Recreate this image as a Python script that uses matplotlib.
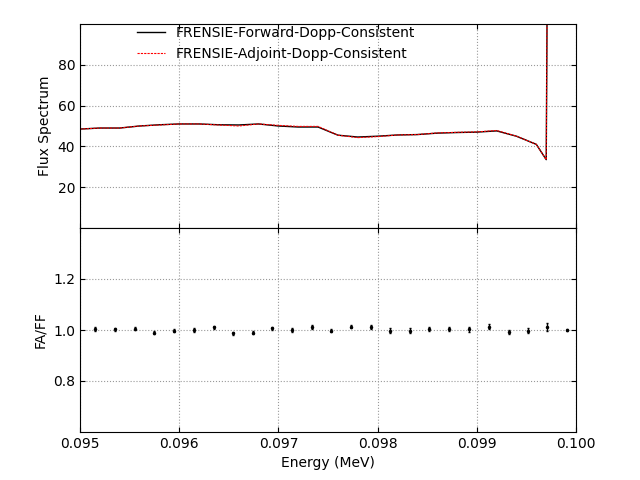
import numpy as np
import matplotlib
matplotlib.use('Agg')
import matplotlib.pyplot as plt

# flux spectrum
energy = [0.0950, 0.0952, 0.0954, 0.0956, 0.0958, 0.0960, 0.0962, 0.0964, 0.0966,
          0.0968, 0.0970, 0.0972, 0.0974, 0.0976, 0.0978, 0.0980, 0.0982, 0.0984,
          0.0986, 0.0988, 0.0990, 0.0992, 0.0994, 0.0996, 0.0997, 0.09971]
flux_fwd = [48.5, 49.0, 49.0, 50.0, 50.6, 51.0, 51.0, 50.6, 50.5, 51.0, 50.0, 49.5,
            49.5, 45.5, 44.6, 45.0, 45.6, 45.8, 46.5, 46.8, 47.0, 47.6, 45.0, 41.0,
            33.5, 120.0]
flux_adj = [48.5, 49.0, 49.0, 50.0, 50.5, 51.0, 51.0, 50.5, 50.0, 51.0, 50.3, 49.8,
            49.8, 45.5, 44.3, 44.8, 45.6, 45.8, 46.6, 46.9, 47.1, 47.8, 45.0, 41.0,
            33.5, 120.0]

# ratio FA/FF
ratio_x = [0.09515, 0.09535, 0.09555, 0.09575, 0.09595, 0.09615, 0.09635, 0.09654,
           0.09674, 0.09694, 0.09714, 0.09734, 0.09753, 0.09773, 0.09793, 0.09813,
           0.09833, 0.09852, 0.09872, 0.09892, 0.09912, 0.09932, 0.09952, 0.09971, 0.09991]
ratio = [1.005, 1.003, 1.005, 0.990, 0.997, 1.000, 1.010, 0.988, 0.990, 1.007, 1.000,
         1.012, 0.997, 1.012, 1.010, 0.998, 0.998, 1.005, 1.003, 1.002, 1.013, 0.992,
         0.997, 1.012, 1.000]
ratio_err = [0.007, 0.005, 0.006, 0.007, 0.006, 0.006, 0.006, 0.006, 0.007, 0.006, 0.006,
             0.007, 0.006, 0.006, 0.008, 0.008, 0.008, 0.008, 0.008, 0.008, 0.009, 0.009,
             0.010, 0.014, 0.002]

fig = plt.figure(figsize=(6.4, 4.8), dpi=100)
ax1 = fig.add_axes([0.125, 0.525, 0.775, 0.425])
ax2 = fig.add_axes([0.125, 0.1, 0.775, 0.425], sharex=ax1)

ax1.plot(energy, flux_fwd, 'k-', lw=1, label='FRENSIE-Forward-Dopp-Consistent')
ax1.plot(energy, flux_adj, 'r--', lw=0.8, dashes=(2, 1), label='FRENSIE-Adjoint-Dopp-Consistent')
ax1.set_ylim(0, 100)
ax1.set_yticks([20, 40, 60, 80])
ax1.set_ylabel('Flux Spectrum')
ax1.legend(loc='upper left', frameon=False, bbox_to_anchor=(0.09, 1.05))
ax1.grid(True, ls=':', color='0.6')
plt.setp(ax1.get_xticklabels(), visible=False)

ax2.errorbar(ratio_x, ratio, yerr=ratio_err, fmt='k.', ms=3, capsize=1, elinewidth=1)
ax2.set_ylim(0.6, 1.4)
ax2.set_yticks([0.8, 1.0, 1.2])
ax2.set_xlim(0.095, 0.1)
ax2.set_xticks([0.095, 0.096, 0.097, 0.098, 0.099, 0.1])
ax2.set_xticklabels(['0.095', '0.096', '0.097', '0.098', '0.099', '0.100'])
ax2.set_xlabel('Energy (MeV)')
ax2.set_ylabel('FA/FF')
ax2.grid(True, ls=':', color='0.6')

for ax in (ax1, ax2):
    ax.tick_params(direction='in', top=True, right=True)

fig.savefig('out.png')
